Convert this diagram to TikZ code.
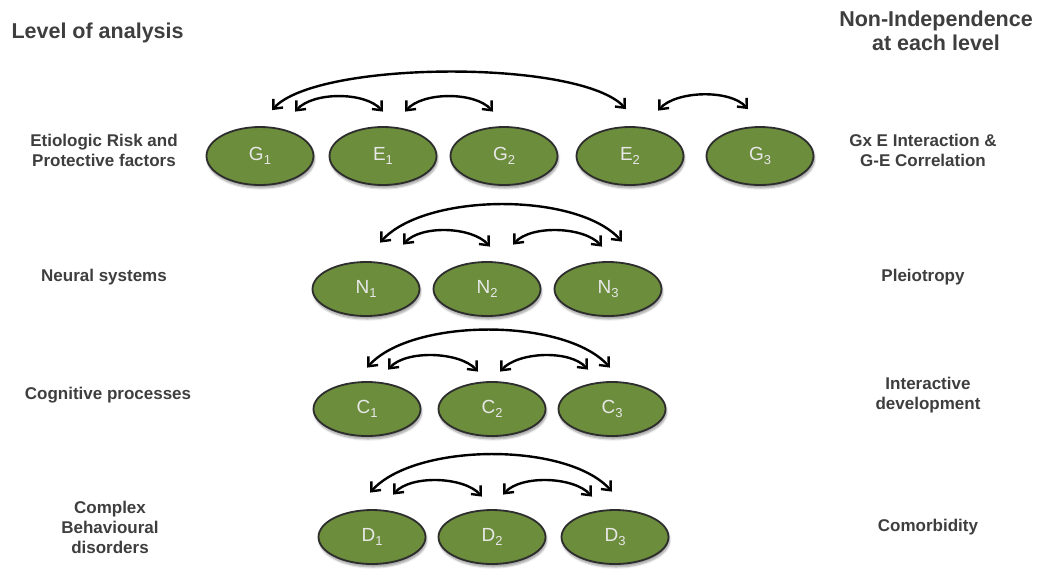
\documentclass[tikz,border=0pt]{standalone}
\usepackage{fontspec}
\setmainfont{Liberation Sans}
\usetikzlibrary{arrows.meta,shapes.geometric,shadows.blur}

\definecolor{leaf}{RGB}{108,141,60}
\definecolor{rim}{RGB}{45,45,45}
\definecolor{ink}{RGB}{62,62,62}
\definecolor{glyph}{RGB}{232,232,232}

% letter with a lowered index, as in G_1
\newcommand\subbed[2]{#1\raisebox{-4pt}{\fontsize{13}{13}\selectfont #2}}

\tikzset{
  factor/.style={ellipse, draw=rim, line width=1.8pt, fill=leaf,
    minimum width=107pt, minimum height=54pt, inner sep=0pt,
    text=glyph, font=\fontsize{19}{22}\selectfont,
    blur shadow={shadow xshift=1pt, shadow yshift=-3pt,
      shadow blur steps=6, shadow opacity=40}},
  tall/.style={minimum height=58pt},
  link/.style={{Straight Barb[length=7.5pt,width=13pt]}-{Straight Barb[length=7.5pt,width=13pt]},
    line width=2.4pt, black},
  level/.style={text=ink, align=center, font=\bfseries\fontsize{17}{20}\selectfont},
  title/.style={text=ink, align=center, font=\bfseries\fontsize{21.5}{23.5}\selectfont},
}

\begin{document}
\begin{tikzpicture}[x=1pt,y=1pt]
\useasboundingbox (0,0) rectangle (1041,-574);

% headings
\node[title, anchor=west] (hl) at (8,-33) {Level of analysis};
\node[title] (hr) at (936,-31) {Non-Independence\\at each level};

% level names on the left
\node[level] (l1) at (104,-150) {Etiologic Risk and\\Protective factors};
\node[level] (l2) at (104,-277) {Neural systems};
\node[level] (l3) at (108,-395) {Cognitive processes};
\node[level] (l4) at (110,-527) {Complex\\Behavioural\\disorders};

% kinds of non-independence on the right
\node[level] (r1) at (923,-150) {Gx E Interaction \&\\G-E Correlation};
\node[level] (r2) at (923,-277) {Pleiotropy};
\node[level] (r3) at (928,-395) {Interactive\\development};
\node[level] (r4) at (928,-527) {Comorbidity};

% etiologic factors
\node[factor,tall] (G1) at (260,-156) {\subbed{G}{1}};
\node[factor,tall] (E1) at (383,-156) {\subbed{E}{1}};
\node[factor,tall] (G2) at (504,-156) {\subbed{G}{2}};
\node[factor,tall] (E2) at (630,-156) {\subbed{E}{2}};
\node[factor,tall] (G3) at (760,-156) {\subbed{G}{3}};

% neural systems
\node[factor] (N1) at (366,-289) {\subbed{N}{1}};
\node[factor] (N2) at (487,-289) {\subbed{N}{2}};
\node[factor] (N3) at (608,-289) {\subbed{N}{3}};

% cognitive processes
\node[factor] (C1) at (367,-409) {\subbed{C}{1}};
\node[factor] (C2) at (492,-409) {\subbed{C}{2}};
\node[factor] (C3) at (612,-409) {\subbed{C}{3}};

% behavioural disorders
\node[factor] (D1) at (372,-537) {\subbed{D}{1}};
\node[factor] (D2) at (492,-537) {\subbed{D}{2}};
\node[factor] (D3) at (615,-537) {\subbed{D}{3}};

% links between etiologic factors
\draw[link] ([shift={(12,16)}]G1.north) .. controls +(45,50) and +(-45,50) .. ([shift={(-4,17)}]E2.north);
\draw[link] ([shift={(35,14.5)}]G1.north) .. controls +(18,20) and +(-18,20) .. ([shift={(0,14.5)}]E1.north);
\draw[link] ([shift={(22,14.5)}]E1.north) .. controls +(18,20) and +(-18,20) .. ([shift={(-11,14.5)}]G2.north);
\draw[link] ([shift={(28,15.5)}]E2.north) .. controls +(18,20) and +(-18,20) .. ([shift={(-12,17)}]G3.north);

% links between neural systems
\draw[link] ([shift={(14,18.5)}]N1.north) .. controls +(45,50) and +(-45,50) .. ([shift={(14,19.5)}]N3.north);
\draw[link] ([shift={(37,16.5)}]N1.north) .. controls +(18,20) and +(-18,20) .. ([shift={(3,14.5)}]N2.north);
\draw[link] ([shift={(26,16.5)}]N2.north) .. controls +(18,20) and +(-18,20) .. ([shift={(-6,14.5)}]N3.north);

% links between cognitive processes
\draw[link] ([shift={(0,13.5)}]C1.north) .. controls +(45,50) and +(-45,50) .. ([shift={(-2,13.5)}]C3.north);
\draw[link] ([shift={(21,11.5)}]C1.north) .. controls +(18,20) and +(-18,20) .. ([shift={(-14,9.5)}]C2.north);
\draw[link] ([shift={(8,9.5)}]C2.north) .. controls +(18,20) and +(-18,20) .. ([shift={(-24,11.5)}]C3.north);

% links between disorders
\draw[link] ([shift={(-2,16.5)}]D1.north) .. controls +(45,50) and +(-45,50) .. ([shift={(-3,17.5)}]D3.north);
\draw[link] ([shift={(21,14.5)}]D1.north) .. controls +(18,20) and +(-18,20) .. ([shift={(-10,12.5)}]D2.north);
\draw[link] ([shift={(11,14.5)}]D2.north) .. controls +(18,20) and +(-18,20) .. ([shift={(-23,12.5)}]D3.north);
\end{tikzpicture}
\end{document}
